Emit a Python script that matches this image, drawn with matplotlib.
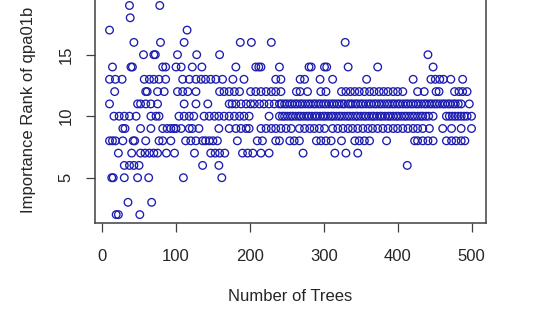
import matplotlib
matplotlib.use("Agg")
import matplotlib.pyplot as plt

# Importance rank (y) -> number of trees (x) at which that rank was observed
rank19_x = [37, 78]
rank18_x = [38]
rank17_x = [10, 115]
rank16_x = [43, 79, 111, 187, 202, 229, 329]
rank15_x = [56, 70, 72, 102, 128, 159, 441]
rank14_x = [14, 39, 41, 82, 86, 100, 107, 122, 135, 181, 208, 212, 215, 240,
            280, 283, 301, 304, 333, 373, 448]
rank13_x = [10, 18, 27, 57, 64, 70, 77, 86, 109, 118, 127, 134, 140, 147, 154,
            163, 177, 192, 235, 242, 268, 274, 295, 312, 358, 421, 445, 451,
            457, 462, 472, 488]
rank12_x = [17, 59, 61, 75, 84, 102, 109, 116, 127, 159, 165, 172, 179, 186,
            201, 208, 215, 222, 229, 235, 242, 263, 268, 278, 296, 303, 324,
            330, 336, 342, 348, 355, 362, 368, 375, 381, 387, 394, 400, 407,
            427, 436, 452, 456, 477, 483, 488, 494]
rank11_x = [10, 48, 52, 59, 66, 75, 111, 127, 143, 172, 176, 181, 188, 195,
            201, 206, 213, 219, 226, 233, 240, 243, 247, 250, 254, 257, 261,
            264, 268, 271, 275, 279, 282, 286, 289, 293, 296, 300, 303, 307,
            311, 314, 318, 321, 325, 328, 333, 336, 339, 343, 346, 350, 353,
            357, 361, 364, 368, 371, 375, 378, 382, 386, 389, 393, 396, 400,
            403, 407, 411, 414, 418, 421, 425, 428, 432, 436, 439, 443, 446,
            450, 453, 457, 461, 464, 468, 471, 475, 478, 482, 486, 497]
rank10_x = [16, 23, 30, 37, 46, 66, 73, 77, 104, 111, 118, 124, 138, 145, 152,
            158, 165, 172, 179, 186, 192, 199, 226, 240, 244, 247, 251, 255,
            258, 262, 266, 269, 273, 277, 280, 284, 288, 291, 295, 299, 302,
            306, 310, 313, 317, 321, 324, 328, 332, 335, 339, 343, 346, 350,
            354, 357, 361, 365, 368, 372, 376, 379, 383, 387, 390, 394, 398,
            401, 405, 409, 412, 416, 420, 423, 427, 431, 434, 438, 442, 448,
            466, 470, 474, 478, 482, 486, 490, 494, 500]
rank9_x = [28, 31, 52, 66, 82, 88, 93, 97, 100, 107, 118, 122, 131, 158, 172,
           181, 188, 195, 199, 215, 222, 229, 235, 242, 249, 256, 267, 274,
           281, 287, 294, 301, 312, 319, 326, 333, 339, 346, 353, 360, 366,
           373, 380, 387, 394, 400, 407, 414, 421, 427, 434, 443, 461, 473,
           486, 500]
rank8_x = [10, 14, 18, 28, 42, 44, 59, 77, 82, 93, 113, 120, 127, 136, 140,
           145, 150, 156, 183, 210, 217, 235, 240, 254, 260, 267, 290, 296,
           303, 310, 324, 342, 348, 355, 362, 385, 423, 427, 434, 441, 448,
           466, 473, 479, 486, 491]
rank7_x = [22, 40, 52, 58, 64, 70, 75, 87, 98, 125, 147, 153, 159, 166, 190,
           197, 204, 215, 226, 272, 315, 330, 346]
rank6_x = [30, 37, 43, 50, 136, 158, 413]
rank5_x = [13, 15, 30, 48, 63, 110, 162]
rank3_x = [35, 67]
rank2_x = [19, 22, 51]

ranks = {19: rank19_x, 18: rank18_x, 17: rank17_x, 16: rank16_x,
         15: rank15_x, 14: rank14_x, 13: rank13_x, 12: rank12_x,
         11: rank11_x, 10: rank10_x, 9: rank9_x, 8: rank8_x, 7: rank7_x,
         6: rank6_x, 5: rank5_x, 3: rank3_x, 2: rank2_x}

x_ticks = [0, 100, 200, 300, 400, 500]
y_ticks = [5, 10, 15]
x_label = "Number of Trees"
y_label = "Importance Rank of qpa01b"

plt.rcParams['font.family'] = ['Liberation Sans', 'DejaVu Sans']
text_color = '#262626'

fig = plt.figure(figsize=(5.40, 3.19), dpi=100)
ax = fig.add_axes([0.176, 0.301, 0.724, 0.708])

xs, ys = [], []
for r, xv in ranks.items():
    xs.extend(xv)
    ys.extend([r] * len(xv))

ax.scatter(xs, ys, s=30, facecolors='none', edgecolors='#1c1cb0',
           linewidths=0.95, zorder=3)

xmin, xmax = 10, 500
ymin, ymax = 2, 19
ax.set_xlim(xmin - 0.04 * (xmax - xmin), xmax + 0.04 * (xmax - xmin))
ax.set_ylim(ymin - 0.04 * (ymax - ymin), ymax + 0.04 * (ymax - ymin))

ax.set_xticks(x_ticks)
ax.set_yticks(y_ticks)
ax.set_xticklabels([str(v) for v in x_ticks])
ax.set_yticklabels([str(v) for v in y_ticks], rotation=90, va='center')

for sp in ax.spines.values():
    sp.set_color('#404040')
    sp.set_linewidth(1.1)

ax.tick_params(axis='both', direction='out', length=6.5, width=0.9,
               color='#404040', labelsize=12, labelcolor=text_color)
ax.tick_params(axis='x', pad=12.5)
ax.tick_params(axis='y', pad=9)

ax.set_xlabel(x_label, fontsize=12, color=text_color, labelpad=18)
ax.set_ylabel(y_label, fontsize=12, color=text_color, labelpad=16)

fig.savefig("out.png", dpi=100, facecolor='white')
